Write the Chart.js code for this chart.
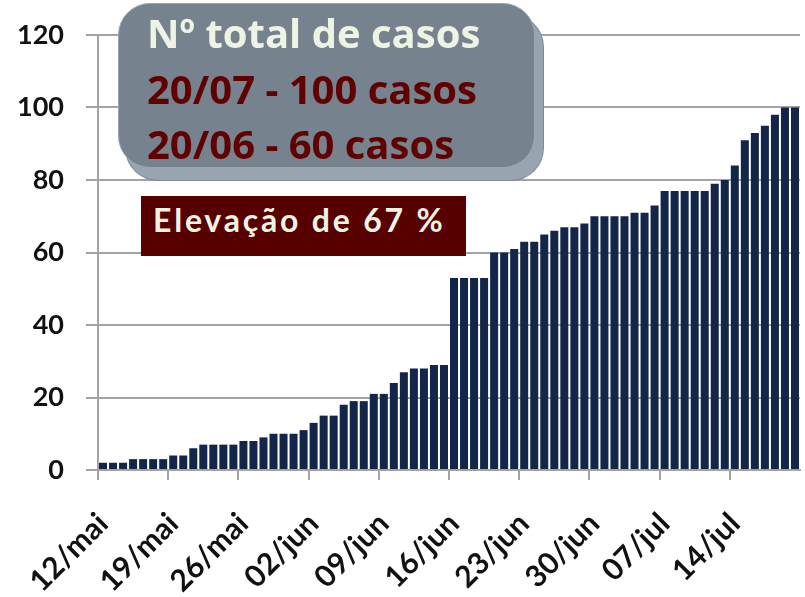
<!DOCTYPE html>
<html>
<head>
<meta charset="utf-8">
<script src="https://cdn.jsdelivr.net/npm/chart.js@4.4.0/dist/chart.umd.min.js"></script>
<style>
  html, body { margin: 0; padding: 0; background: #fff; }
  #wrap { position: relative; width: 805px; height: 597px; overflow: hidden; }
  #chart { position: absolute; left: 0; top: 0; }
  .caixa { position: absolute; box-sizing: border-box; white-space: nowrap; }
  #total {
    left: 118px; top: 3px; width: 417px; height: 165px;
    background: #76838e; border: 1px solid #9aa6b2; border-radius: 32px;
    box-shadow: 8px 12px 0 #98a4b1, 8px 12px 0 1px #7f8b97;
    padding: 1px 0 0 28px;
    font-family: 'Open Sans', sans-serif; font-weight: 700; font-size: 40px; line-height: 55.5px;
    color: #600000;
  }
  #total .titulo { color: #eef4e4; }
  #elevacao {
    left: 141px; top: 196px; width: 325px; height: 60px;
    background: #560000; color: #eef4e4;
    padding: 0 0 0 12px;
    font-family: Lato, sans-serif; font-weight: 700; font-size: 32px; line-height: 48px; letter-spacing: 2.8px;
  }
</style>
</head>
<body>
<div id="wrap">
  <canvas id="chart" width="805" height="597"></canvas>
  <div class="caixa" id="total">
    <div class="titulo">Nº total de casos</div>
    <div>20/07 - 100 casos</div>
    <div>20/06 - 60 casos</div>
  </div>
  <div class="caixa" id="elevacao">Elevação de 67 %</div>
</div>
<script>
const dias = [
  '12/mai', '13/mai', '14/mai', '15/mai', '16/mai', '17/mai', '18/mai',
  '19/mai', '20/mai', '21/mai', '22/mai', '23/mai', '24/mai', '25/mai',
  '26/mai', '27/mai', '28/mai', '29/mai', '30/mai', '31/mai', '01/jun',
  '02/jun', '03/jun', '04/jun', '05/jun', '06/jun', '07/jun', '08/jun',
  '09/jun', '10/jun', '11/jun', '12/jun', '13/jun', '14/jun', '15/jun',
  '16/jun', '17/jun', '18/jun', '19/jun', '20/jun', '21/jun', '22/jun',
  '23/jun', '24/jun', '25/jun', '26/jun', '27/jun', '28/jun', '29/jun',
  '30/jun', '01/jul', '02/jul', '03/jul', '04/jul', '05/jul', '06/jul',
  '07/jul', '08/jul', '09/jul', '10/jul', '11/jul', '12/jul', '13/jul',
  '14/jul', '15/jul', '16/jul', '17/jul', '18/jul', '19/jul', '20/jul',
];

const casos = [
  2, 2, 2, 3, 3, 3, 3,
  4, 4, 6, 7, 7, 7, 7,
  8, 8, 9, 10, 10, 10, 11,
  13, 15, 15, 18, 19, 19, 21,
  21, 24, 27, 28, 28, 29, 29,
  53, 53, 53, 53, 60, 60, 61,
  63, 63, 65, 66, 67, 67, 68,
  70, 70, 70, 70, 71, 71, 73,
  77, 77, 77, 77, 77, 79, 80,
  84, 91, 93, 95, 98, 100, 100,
];

const diasMarcados = ['12/mai', '19/mai', '26/mai', '02/jun', '09/jun', '16/jun', '23/jun', '30/jun', '07/jul', '14/jul'];
const marcasY = [0, 20, 40, 60, 80, 100, 120];

const GRID = '#a3a3a3';

// tick mark only under the labelled days
const marcado = (ctx) => diasMarcados.includes(dias[ctx.index]);

new Chart(document.getElementById('chart'), {
  type: 'bar',
  data: {
    labels: dias,
    datasets: [{
      data: casos,
      backgroundColor: '#13264a',
      borderWidth: 0,
      barPercentage: 0.8,
      categoryPercentage: 1,
    }],
  },
  options: {
    responsive: false,
    animation: false,
    layout: { padding: { top: 35, right: 5, left: 0, bottom: 0 } },
    plugins: { legend: { display: false }, tooltip: { enabled: false } },
    scales: {
      x: {
        offset: true,
        grid: {
          display: true,
          drawOnChartArea: false,
          drawTicks: true,
          tickLength: 10,
          lineWidth: 2,
          offset: true,
          color: (ctx) => (marcado(ctx) ? GRID : 'rgba(0,0,0,0)'),
          tickColor: (ctx) => (marcado(ctx) ? GRID : 'rgba(0,0,0,0)'),
        },
        border: { display: true, color: GRID, width: 2 },
        ticks: {
          autoSkip: false,
          maxRotation: 45,
          minRotation: 45,
          padding: 26,
          color: '#111',
          font: { family: 'Lato', weight: 'bold', size: 30 },
          callback: function (value) {
            const lbl = this.getLabelForValue(value);
            return diasMarcados.includes(lbl) ? lbl : '';
          },
        },
        afterFit: (s) => {
          s.height = 127;
          s.paddingLeft = 0;
          s.paddingRight = 0;
        },
      },
      y: {
        min: 0,
        max: 120,
        afterBuildTicks: (s) => { s.ticks = marcasY.map((v) => ({ value: v })); },
        grid: { color: GRID, lineWidth: 2, tickLength: 12, drawTicks: true },
        border: { display: true, color: GRID, width: 2 },
        ticks: {
          padding: 22,
          color: '#111',
          font: { family: 'Lato', weight: 'bold', size: 27 },
        },
        afterFit: (s) => {
          s.width = 98;
          s.paddingTop = 0;
          s.paddingBottom = 0;
        },
      },
    },
  },
});
</script>
</body>
</html>
